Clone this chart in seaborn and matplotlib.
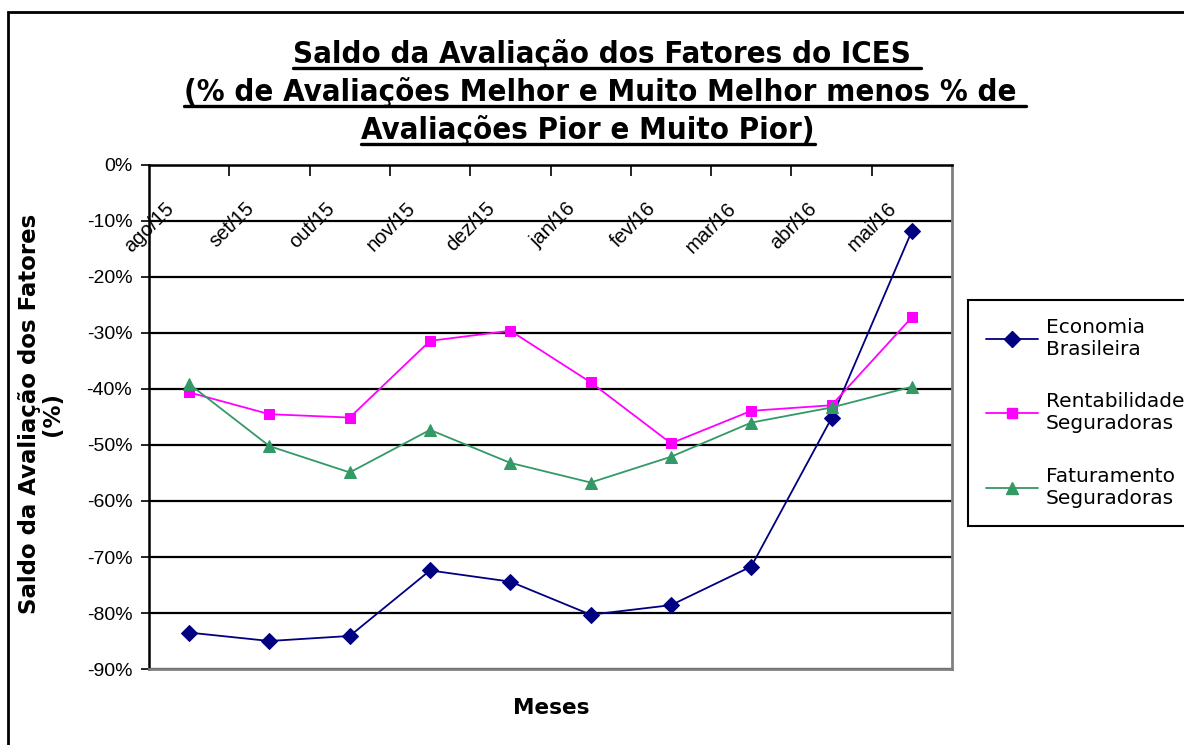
import matplotlib
matplotlib.use("Agg")
import matplotlib.pyplot as plt
import seaborn as sns
import pandas as pd
from matplotlib.lines import Line2D
from matplotlib.patches import Rectangle

# Data
meses = ["ago/15", "set/15", "out/15", "nov/15", "dez/15",
         "jan/16", "fev/16", "mar/16", "abr/16", "mai/16"]
economia = [-83.5, -85.0, -84.1, -72.4, -74.4, -80.3, -78.6, -71.7, -45.2, -11.8]
rentabilidade = [-40.6, -44.5, -45.1, -31.4, -29.6, -38.8, -49.7, -43.9, -42.9, -27.2]
faturamento = [-39.1, -50.2, -54.9, -47.3, -53.2, -56.7, -52.1, -46.0, -43.3, -39.6]

series = [
    ("Economia\nBrasileira", economia, "#000080", "D", 8),
    ("Rentabilidade\nSeguradoras", rentabilidade, "#FF00FF", "s", 7.5),
    ("Faturamento\nSeguradoras", faturamento, "#339966", "^", 8.5),
]

sns.set_style("white")
plt.rcParams["font.family"] = ["DejaVu Sans"]
for k in ["text.color", "axes.labelcolor", "xtick.color", "ytick.color"]:
    plt.rcParams[k] = "black"

W, H = 1184, 745
fig = plt.figure(figsize=(W / 100, H / 100), dpi=100)
ax = fig.add_axes([149 / W, 1 - 669 / H, (952 - 149) / W, (669 - 165) / H])

x = list(range(len(meses)))
for name, vals, color, marker, ms in series:
    df = pd.DataFrame({"x": x, "v": vals})
    sns.lineplot(data=df, x="x", y="v", ax=ax, color=color, marker=marker,
                 markersize=ms, markeredgecolor=color, linewidth=1.3,
                 label=name, legend=False)

ax.set_xlim(-0.5, len(meses) - 0.5)
ax.set_ylim(-90, 0)
ax.set_yticks(range(-90, 1, 10))
ax.set_yticklabels([f"{v}%" for v in range(-90, 1, 10)],
                   family=["Liberation Sans"], fontsize=14)
ax.yaxis.grid(True, color="black", linewidth=1.6)
ax.tick_params(axis="y", direction="out", length=6, width=1.2, pad=6, left=True)

# category ticks drawn on top axis (axis crosses at 0%)
ax.set_xticks([i + 0.5 for i in range(len(meses) - 1)])
ax.set_xticklabels([])
ax.tick_params(axis="x", bottom=False, top=True, direction="in", length=8, width=1.2)
ax.set_xlabel("")
ax.set_ylabel("")

for i, lab in enumerate(meses):
    ax.text(i - 0.14, -6.0, lab, rotation=45, ha="right", va="top",
            family=["Liberation Sans"], fontsize=14.5)

for side in ["left", "top"]:
    ax.spines[side].set_color("black")
    ax.spines[side].set_linewidth(1.8)
for side in ["right", "bottom"]:
    ax.spines[side].set_color("#808080")
    ax.spines[side].set_linewidth(2)

fig.text(41 / W, 1 - 414 / H, "Saldo da Avaliação dos Fatores\n(%)", rotation=90,
         ha="center", va="center", fontsize=16.5, fontweight="bold",
         multialignment="center", linespacing=1.0)
fig.text(551 / W, 1 - 708 / H, "Meses", ha="center", va="center",
         fontsize=15.5, fontweight="bold")

handles = [Line2D([], [], color=c, marker=m, markersize=ms, markeredgecolor=c,
                  linewidth=1.3) for _, _, c, m, ms in series]
leg = fig.legend(handles, [s[0] for s in series], loc="upper left",
                 bbox_to_anchor=(968 / W, 1 - 300 / H), frameon=True,
                 fancybox=False, edgecolor="black", framealpha=1, fontsize=14.5,
                 handlelength=2.6, labelspacing=1.65, borderpad=0.9,
                 handletextpad=0.35, borderaxespad=0)
leg.get_frame().set_linewidth(1.5)

# outer chart border
fig.add_artist(Rectangle((8 / W, -0.05), 1.1, 1 - 12 / H + 0.05,
                         transform=fig.transFigure, fill=False,
                         edgecolor="black", linewidth=2))

# title, underlined
titulo = ["Saldo da Avaliação dos Fatores do ICES ",
          "(% de Avaliações Melhor e Muito Melhor menos % de ",
          "Avaliações Pior e Muito Pior)"]
centros = [607, 605, 588]
bases = [63, 101, 139]
fs = 20
probe = fig.text(0.5, 0.5, titulo[1], fontsize=fs, fontweight="bold",
                 fontstretch="condensed")
fig.canvas.draw()
fs = fs * 840 / probe.get_window_extent().width
probe.remove()

textos = []
for t, cx, by in zip(titulo, centros, bases):
    textos.append(fig.text(cx / W, 1 - by / H, t, ha="center", va="baseline",
                           fontsize=fs, fontweight="bold", fontstretch="condensed"))
fig.canvas.draw()
for tx, by in zip(textos, bases):
    bb = tx.get_window_extent()
    yl = 1 - (by + 5) / H
    fig.add_artist(Line2D([bb.x0 / W, bb.x1 / W], [yl, yl],
                          transform=fig.transFigure, color="black", linewidth=2.4))

fig.savefig("out.png", dpi=100)
